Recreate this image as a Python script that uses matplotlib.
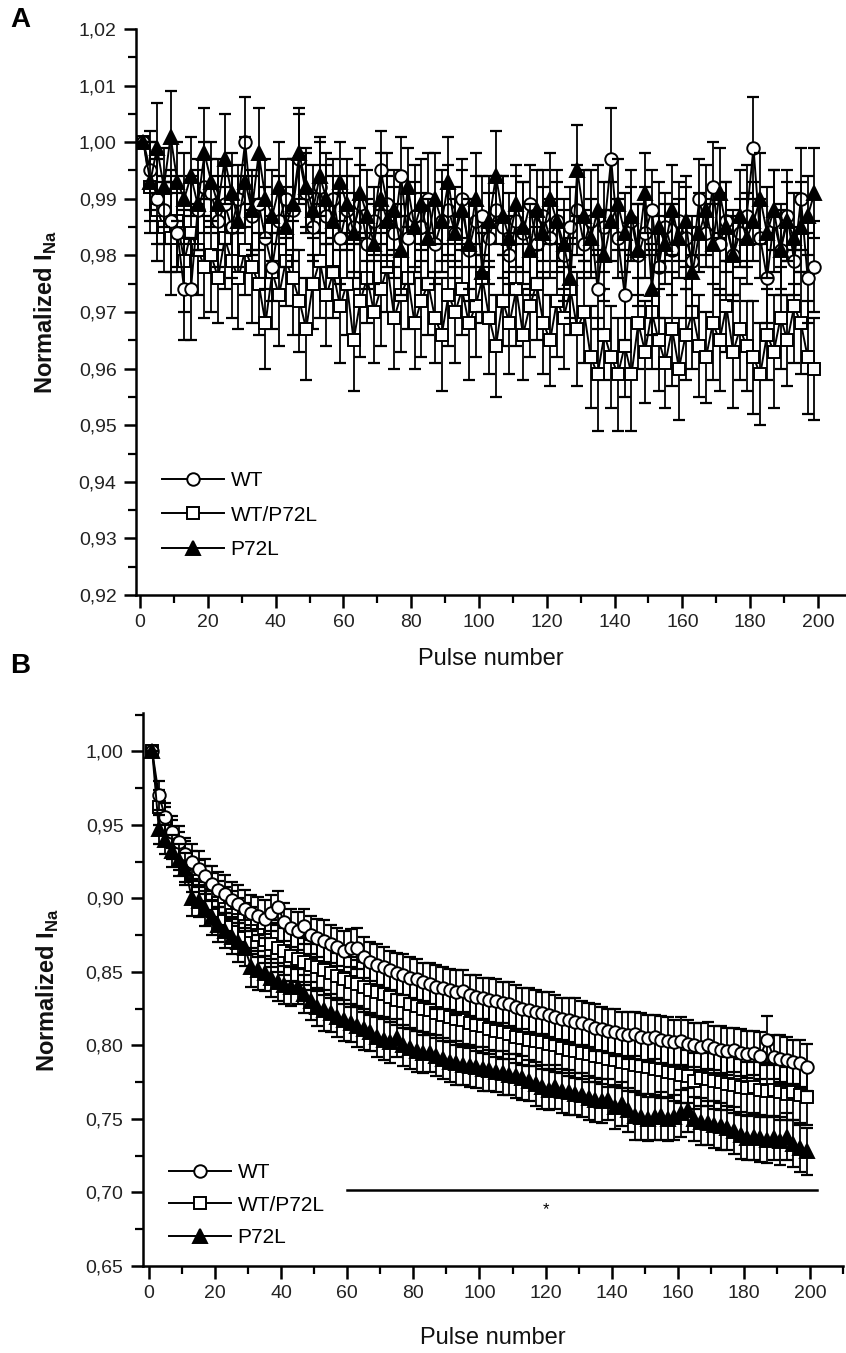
import matplotlib
matplotlib.use("Agg")
import matplotlib.pyplot as plt
from matplotlib.ticker import MultipleLocator, FuncFormatter

plt.rcParams['font.family'] = ['Liberation Sans', 'DejaVu Sans']

# pulse numbers (every second pulse)
pulses = list(range(1, 200, 2))

# ---------------- panel A ----------------
wt_a = [1.000, 0.995, 0.990, 0.988, 0.986, 0.984, 0.974, 0.974, 0.988, 0.992,
        0.991, 0.986, 0.989, 0.985, 0.990, 1.000, 0.987, 0.989, 0.983, 0.978,
        0.986, 0.990, 0.988, 0.997, 0.991, 0.985, 0.992, 0.987, 0.990, 0.983,
        0.988, 0.985, 0.989, 0.982, 0.986, 0.995, 0.989, 0.984, 0.994, 0.983,
        0.987, 0.985, 0.990, 0.982, 0.986, 0.988, 0.984, 0.990, 0.981, 0.986,
        0.987, 0.983, 0.988, 0.985, 0.980, 0.986, 0.984, 0.989, 0.982, 0.987,
        0.983, 0.986, 0.980, 0.985, 0.988, 0.982, 0.986, 0.974, 0.985, 0.997,
        0.983, 0.973, 0.986, 0.980, 0.984, 0.988, 0.978, 0.985, 0.981, 0.986,
        0.983, 0.979, 0.990, 0.984, 0.992, 0.982, 0.986, 0.980, 0.984, 0.987,
        0.999, 0.983, 0.976, 0.986, 0.981, 0.987, 0.979, 0.990, 0.976, 0.978]
het_a = [1.000, 0.992, 0.988, 0.985, 0.983, 0.986, 0.979, 0.984, 0.981, 0.978,
         0.980, 0.976, 0.983, 0.979, 0.976, 0.981, 0.978, 0.975, 0.968, 0.977,
         0.973, 0.979, 0.976, 0.972, 0.967, 0.975, 0.979, 0.973, 0.977, 0.971,
         0.975, 0.965, 0.972, 0.976, 0.970, 0.974, 0.978, 0.969, 0.973, 0.976,
         0.968, 0.972, 0.975, 0.969, 0.966, 0.973, 0.970, 0.974, 0.968, 0.971,
         0.976, 0.969, 0.964, 0.972, 0.968, 0.974, 0.966, 0.971, 0.975, 0.968,
         0.965, 0.972, 0.969, 0.974, 0.967, 0.970, 0.962, 0.959, 0.966, 0.962,
         0.959, 0.964, 0.959, 0.968, 0.963, 0.970, 0.965, 0.961, 0.967, 0.960,
         0.966, 0.970, 0.964, 0.962, 0.968, 0.965, 0.971, 0.963, 0.967, 0.964,
         0.962, 0.959, 0.966, 0.963, 0.969, 0.965, 0.971, 0.968, 0.962, 0.960]
mut_a = [1.000, 0.993, 0.999, 0.992, 1.001, 0.993, 0.990, 0.994, 0.989, 0.998,
         0.993, 0.989, 0.997, 0.991, 0.986, 0.993, 0.988, 0.998, 0.990, 0.987,
         0.992, 0.985, 0.989, 0.998, 0.992, 0.988, 0.994, 0.990, 0.986, 0.993,
         0.989, 0.984, 0.991, 0.987, 0.982, 0.990, 0.986, 0.988, 0.981, 0.992,
         0.985, 0.989, 0.983, 0.990, 0.986, 0.993, 0.984, 0.988, 0.982, 0.990,
         0.977, 0.986, 0.994, 0.987, 0.983, 0.989, 0.985, 0.981, 0.988, 0.984,
         0.990, 0.986, 0.982, 0.976, 0.995, 0.987, 0.983, 0.988, 0.980, 0.986,
         0.989, 0.984, 0.987, 0.981, 0.991, 0.974, 0.985, 0.982, 0.988, 0.983,
         0.986, 0.977, 0.984, 0.988, 0.982, 0.991, 0.985, 0.980, 0.987, 0.983,
         0.986, 0.990, 0.984, 0.988, 0.981, 0.986, 0.983, 0.985, 0.987, 0.991]
wt_a_err = [0.000, 0.007, 0.008, 0.006, 0.009, 0.007, 0.009, 0.009, 0.007, 0.008,
            0.006, 0.008, 0.007, 0.009, 0.006, 0.008, 0.007, 0.008, 0.009, 0.006,
            0.008, 0.007, 0.009, 0.008, 0.007, 0.006, 0.008, 0.009, 0.007, 0.008,
            0.006, 0.009, 0.007, 0.008, 0.006, 0.007, 0.009, 0.008, 0.007, 0.008,
            0.009, 0.006, 0.008, 0.007, 0.009, 0.008, 0.006, 0.007, 0.009, 0.008,
            0.007, 0.008, 0.006, 0.009, 0.007, 0.008, 0.009, 0.007, 0.006, 0.008,
            0.007, 0.009, 0.008, 0.007, 0.008, 0.006, 0.009, 0.007, 0.008, 0.009,
            0.007, 0.008, 0.006, 0.009, 0.008, 0.007, 0.009, 0.006, 0.008, 0.007,
            0.009, 0.008, 0.007, 0.006, 0.008, 0.009, 0.007, 0.008, 0.006, 0.009,
            0.009, 0.007, 0.008, 0.009, 0.007, 0.008, 0.006, 0.009, 0.008, 0.008]
het_a_err = [0.000, 0.008, 0.009, 0.008, 0.010, 0.008, 0.009, 0.010, 0.008, 0.009,
             0.010, 0.008, 0.009, 0.010, 0.009, 0.008, 0.010, 0.009, 0.008, 0.010,
             0.009, 0.008, 0.010, 0.009, 0.009, 0.008, 0.010, 0.009, 0.008, 0.010,
             0.009, 0.009, 0.010, 0.008, 0.009, 0.010, 0.008, 0.009, 0.010, 0.009,
             0.008, 0.010, 0.009, 0.008, 0.010, 0.009, 0.009, 0.008, 0.010, 0.009,
             0.008, 0.010, 0.009, 0.008, 0.009, 0.010, 0.008, 0.009, 0.010, 0.009,
             0.008, 0.010, 0.009, 0.008, 0.010, 0.009, 0.009, 0.010, 0.008, 0.009,
             0.010, 0.009, 0.010, 0.008, 0.009, 0.010, 0.009, 0.008, 0.010, 0.009,
             0.008, 0.010, 0.009, 0.008, 0.010, 0.009, 0.008, 0.010, 0.009, 0.008,
             0.010, 0.009, 0.008, 0.010, 0.009, 0.008, 0.010, 0.009, 0.010, 0.009]
mut_a_err = [0.000, 0.007, 0.008, 0.007, 0.008, 0.007, 0.008, 0.007, 0.008, 0.008,
             0.007, 0.008, 0.008, 0.007, 0.008, 0.008, 0.007, 0.008, 0.007, 0.008,
             0.008, 0.007, 0.008, 0.008, 0.007, 0.008, 0.007, 0.008, 0.008, 0.007,
             0.008, 0.007, 0.008, 0.008, 0.007, 0.008, 0.008, 0.007, 0.008, 0.007,
             0.008, 0.008, 0.007, 0.008, 0.007, 0.008, 0.008, 0.007, 0.008, 0.008,
             0.007, 0.008, 0.008, 0.007, 0.008, 0.007, 0.008, 0.008, 0.007, 0.008,
             0.008, 0.007, 0.008, 0.007, 0.008, 0.008, 0.007, 0.008, 0.008, 0.007,
             0.008, 0.007, 0.008, 0.008, 0.007, 0.008, 0.008, 0.007, 0.008, 0.007,
             0.008, 0.008, 0.007, 0.008, 0.007, 0.008, 0.008, 0.007, 0.008, 0.008,
             0.007, 0.008, 0.008, 0.007, 0.008, 0.007, 0.008, 0.008, 0.007, 0.008]

# ---------------- panel B ----------------
wt_b = [1.000, 0.970, 0.955, 0.945, 0.938, 0.930, 0.925, 0.920, 0.915, 0.910,
        0.906, 0.903, 0.899, 0.896, 0.893, 0.890, 0.888, 0.886, 0.890, 0.894,
        0.884, 0.880, 0.878, 0.881, 0.875, 0.873, 0.871, 0.869, 0.867, 0.864,
        0.866, 0.866, 0.860, 0.857, 0.855, 0.853, 0.851, 0.849, 0.848, 0.846,
        0.845, 0.843, 0.842, 0.840, 0.839, 0.838, 0.836, 0.837, 0.834, 0.833,
        0.832, 0.831, 0.830, 0.829, 0.828, 0.826, 0.825, 0.824, 0.823, 0.822,
        0.821, 0.819, 0.818, 0.817, 0.816, 0.815, 0.814, 0.812, 0.811, 0.810,
        0.809, 0.808, 0.807, 0.808, 0.806, 0.805, 0.806, 0.804, 0.803, 0.802,
        0.803, 0.801, 0.800, 0.799, 0.800, 0.798, 0.797, 0.796, 0.797, 0.795,
        0.794, 0.795, 0.793, 0.804, 0.792, 0.791, 0.790, 0.789, 0.788, 0.785]
het_b = [1.000, 0.962, 0.950, 0.940, 0.932, 0.925, 0.918, 0.912, 0.907, 0.902,
         0.897, 0.893, 0.889, 0.885, 0.881, 0.878, 0.875, 0.872, 0.869, 0.866,
         0.864, 0.861, 0.859, 0.857, 0.855, 0.853, 0.851, 0.849, 0.847, 0.845,
         0.843, 0.842, 0.840, 0.838, 0.836, 0.835, 0.833, 0.831, 0.830, 0.828,
         0.827, 0.825, 0.824, 0.822, 0.821, 0.819, 0.818, 0.817, 0.815, 0.814,
         0.813, 0.811, 0.810, 0.809, 0.808, 0.806, 0.805, 0.804, 0.803, 0.802,
         0.801, 0.800, 0.798, 0.797, 0.796, 0.795, 0.794, 0.793, 0.792, 0.791,
         0.790, 0.789, 0.788, 0.787, 0.786, 0.785, 0.784, 0.783, 0.782, 0.781,
         0.780, 0.779, 0.776, 0.778, 0.777, 0.776, 0.775, 0.774, 0.773, 0.772,
         0.771, 0.772, 0.770, 0.769, 0.770, 0.768, 0.767, 0.768, 0.766, 0.765]
mut_b = [1.000, 0.947, 0.940, 0.932, 0.926, 0.920, 0.900, 0.898, 0.893, 0.887,
         0.882, 0.878, 0.874, 0.870, 0.866, 0.853, 0.851, 0.849, 0.846, 0.843,
         0.841, 0.840, 0.840, 0.835, 0.830, 0.826, 0.824, 0.822, 0.819, 0.817,
         0.815, 0.813, 0.811, 0.809, 0.806, 0.804, 0.802, 0.805, 0.800, 0.798,
         0.796, 0.795, 0.795, 0.793, 0.791, 0.789, 0.788, 0.787, 0.786, 0.785,
         0.784, 0.783, 0.782, 0.781, 0.780, 0.779, 0.778, 0.776, 0.774, 0.772,
         0.770, 0.772, 0.769, 0.768, 0.767, 0.766, 0.764, 0.763, 0.762, 0.763,
         0.758, 0.760, 0.756, 0.752, 0.751, 0.750, 0.751, 0.752, 0.750, 0.751,
         0.754, 0.756, 0.750, 0.748, 0.747, 0.746, 0.745, 0.744, 0.742, 0.739,
         0.737, 0.738, 0.737, 0.736, 0.737, 0.735, 0.738, 0.733, 0.730, 0.728]
wt_b_err = [0.000, 0.010, 0.010, 0.011, 0.011, 0.011, 0.012, 0.012, 0.012, 0.012,
            0.012, 0.013, 0.012, 0.013, 0.013, 0.012, 0.013, 0.013, 0.012, 0.011,
            0.013, 0.013, 0.013, 0.012, 0.013, 0.013, 0.014, 0.013, 0.013, 0.014,
            0.013, 0.014, 0.014, 0.013, 0.014, 0.014, 0.013, 0.014, 0.014, 0.014,
            0.014, 0.013, 0.014, 0.015, 0.014, 0.014, 0.015, 0.014, 0.014, 0.015,
            0.014, 0.015, 0.015, 0.014, 0.015, 0.015, 0.014, 0.015, 0.015, 0.014,
            0.015, 0.015, 0.014, 0.015, 0.016, 0.015, 0.015, 0.016, 0.015, 0.015,
            0.016, 0.015, 0.016, 0.015, 0.016, 0.016, 0.015, 0.016, 0.016, 0.015,
            0.016, 0.016, 0.015, 0.016, 0.016, 0.015, 0.016, 0.016, 0.015, 0.016,
            0.016, 0.015, 0.016, 0.016, 0.015, 0.016, 0.016, 0.015, 0.016, 0.016]
het_b_err = [0.000, 0.012, 0.012, 0.013, 0.013, 0.014, 0.014, 0.014, 0.015, 0.015,
             0.015, 0.015, 0.016, 0.015, 0.016, 0.016, 0.015, 0.016, 0.016, 0.016,
             0.016, 0.017, 0.016, 0.016, 0.017, 0.016, 0.017, 0.017, 0.016, 0.017,
             0.017, 0.016, 0.017, 0.017, 0.017, 0.016, 0.017, 0.017, 0.018, 0.017,
             0.017, 0.018, 0.017, 0.017, 0.018, 0.017, 0.018, 0.018, 0.017, 0.018,
             0.018, 0.017, 0.018, 0.018, 0.017, 0.018, 0.018, 0.018, 0.017, 0.018,
             0.018, 0.018, 0.017, 0.018, 0.018, 0.018, 0.019, 0.018, 0.018, 0.019,
             0.018, 0.018, 0.019, 0.018, 0.019, 0.018, 0.019, 0.019, 0.018, 0.019,
             0.019, 0.018, 0.019, 0.019, 0.018, 0.019, 0.019, 0.018, 0.019, 0.019,
             0.018, 0.019, 0.019, 0.018, 0.019, 0.019, 0.018, 0.019, 0.019, 0.019]
mut_b_err = [0.000, 0.010, 0.010, 0.011, 0.011, 0.011, 0.012, 0.011, 0.012, 0.012,
             0.012, 0.012, 0.012, 0.013, 0.012, 0.013, 0.013, 0.012, 0.013, 0.013,
             0.013, 0.013, 0.012, 0.013, 0.013, 0.013, 0.014, 0.013, 0.013, 0.014,
             0.013, 0.014, 0.014, 0.013, 0.014, 0.014, 0.014, 0.013, 0.014, 0.014,
             0.014, 0.014, 0.013, 0.014, 0.014, 0.014, 0.015, 0.014, 0.014, 0.014,
             0.015, 0.014, 0.014, 0.015, 0.014, 0.015, 0.015, 0.014, 0.015, 0.015,
             0.014, 0.015, 0.015, 0.015, 0.014, 0.015, 0.015, 0.015, 0.015, 0.014,
             0.015, 0.015, 0.015, 0.016, 0.015, 0.015, 0.015, 0.016, 0.015, 0.015,
             0.016, 0.015, 0.015, 0.016, 0.015, 0.016, 0.016, 0.015, 0.016, 0.016,
             0.015, 0.016, 0.016, 0.016, 0.015, 0.016, 0.016, 0.016, 0.016, 0.016]

labels = ['WT', 'WT/P72L', 'P72L']


def comma(v, pos):
    return f'{v:.2f}'.replace('.', ',')


def draw_panel(ax, wt, wt_e, het, het_e, mut, mut_e, xpad, ypad):
    series = [(het, het_e, 's', 'white', labels[1]),
              (wt, wt_e, 'o', 'white', labels[0]),
              (mut, mut_e, '^', 'black', labels[2])]
    handles = {}
    for vals, errs, mk, fc, lab in series:
        ax.errorbar(pulses, vals, yerr=errs, fmt='none', ecolor='black',
                    elinewidth=1.3, capsize=4, capthick=1.6)
        h, = ax.plot(pulses, vals, color='black', lw=1.4, marker=mk,
                     markersize=9 if mk != '^' else 10, markerfacecolor=fc,
                     markeredgecolor='black', markeredgewidth=1.4, label=lab)
        handles[lab] = h
    for s in ['top', 'right']:
        ax.spines[s].set_visible(False)
    for s in ['left', 'bottom']:
        ax.spines[s].set_linewidth(1.8)
    ax.xaxis.set_major_locator(MultipleLocator(20))
    ax.xaxis.set_minor_locator(MultipleLocator(10))
    ax.tick_params(which='major', direction='out', length=9, width=1.8,
                   labelsize=14, labelcolor='#222222', pad=5)
    ax.tick_params(which='minor', direction='out', length=6, width=1.6)
    ax.yaxis.set_major_formatter(FuncFormatter(comma))
    ax.set_xlabel('Pulse number', fontsize=17, labelpad=xpad, color='#111111')
    ax.set_ylabel(r'Normalized I$_{\mathregular{Na}}$', fontsize=17,
                  fontweight='bold', labelpad=ypad, color='#111111')
    return [handles[l] for l in labels]


fig = plt.figure(figsize=(8.46, 13.53), dpi=100)

axA = fig.add_axes([0.1608, 0.5602, 0.8392, 0.4184])
hA = draw_panel(axA, wt_a, wt_a_err, het_a, het_a_err, mut_a, mut_a_err, 12, 14)
axA.set_xlim(-1.2, 208.3)
axA.set_ylim(0.92, 1.02)
axA.yaxis.set_major_locator(MultipleLocator(0.01))
axA.yaxis.set_minor_locator(MultipleLocator(0.005))
axA.legend(hA, labels, loc='lower left', bbox_to_anchor=(0.01, 0.03), frameon=False,
           fontsize=15, handlelength=3.0, handletextpad=0.3, labelspacing=0.75)

axB = fig.add_axes([0.169, 0.0643, 0.8275, 0.4087])
hB = draw_panel(axB, wt_b, wt_b_err, het_b, het_b_err, mut_b, mut_b_err, 18, 18)
axB.set_xlim(-1.8, 210)
axB.set_ylim(0.65, 1.026)
axB.yaxis.set_major_locator(MultipleLocator(0.05))
axB.yaxis.set_minor_locator(MultipleLocator(0.025))
axB.legend(hB, labels, loc='lower left', bbox_to_anchor=(0.01, 0.0), frameon=False,
           fontsize=15, handlelength=3.0, handletextpad=0.3, labelspacing=0.65)

# significance bar
axB.plot([60, 202], [0.702, 0.702], color='black', lw=1.8)
axB.text(120, 0.688, '*', ha='center', va='center', fontsize=12)

fig.text(0.012, 0.985, 'A', fontsize=20, fontweight='bold', va='center')
fig.text(0.012, 0.508, 'B', fontsize=20, fontweight='bold', va='center')

fig.savefig('out.png', dpi=100)
